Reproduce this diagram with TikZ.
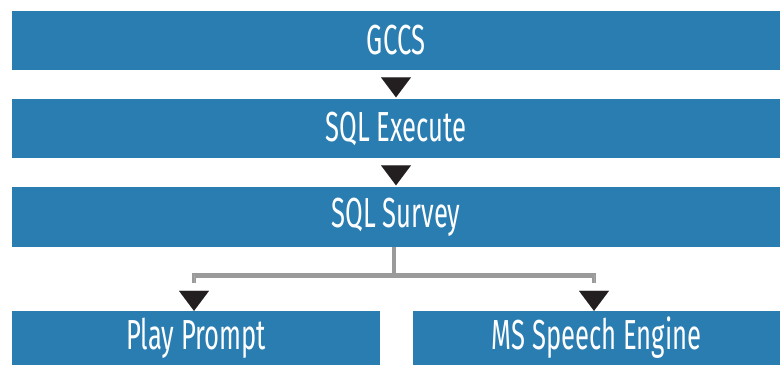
\documentclass[tikz,border=0pt]{standalone}
\usepackage{fontspec}
\setmainfont{Fira Sans}
\usetikzlibrary{arrows.meta}
\definecolor{boxblue}{HTML}{2A7DB1}
\definecolor{tridark}{HTML}{231F20}
\definecolor{linegray}{HTML}{9A9A9A}
\newcommand{\cond}[1]{\scalebox{0.61}[1]{#1}}
\begin{document}
\begin{tikzpicture}[x=1pt,y=-1pt,
  box/.style={fill=boxblue, text=white, inner sep=0pt, font=\fontsize{42}{44}\selectfont},
  triarrow/.style={line width=0.01pt, white, -{Triangle[length=20pt,width=30pt,color=tridark]}},
  branch/.style={draw=linegray, line width=4.6pt, line cap=butt, line join=miter}]
\useasboundingbox (0,0) rectangle (783,365);
\node[box, minimum width=768pt, minimum height=59pt] (b1) at (396,40.5) {\cond{GCCS}};
\node[box, minimum width=768pt, minimum height=59pt] (b2) at (396,128.5) {\cond{SQL Execute}};
\node[box, minimum width=768pt, minimum height=60pt] (b3) at (396,217) {\cond{SQL Survey}};
\node[box, minimum width=368pt, minimum height=54pt] (b4) at (196,338) {\cond{Play Prompt}};
\node[box, minimum width=367pt, minimum height=54pt] (b5) at (596.5,338) {\cond{MS Speech Engine}};
\draw[triarrow, shorten >=1.5pt] (b1.south) -- (b2.north);
\draw[triarrow, shorten >=1.5pt] (b2.south) -- (b3.north);
\coordinate (bl) at (194,283);
\coordinate (br) at (594,283);
\draw[branch] ([xshift=-2pt]b3.south) -- ++(0,28) coordinate (j);
\draw[branch] (bl) |- (j) -| (br);
\draw[triarrow] ([yshift=8pt]bl) -- (b4.north -| bl);
\draw[triarrow] ([yshift=8pt]br) -- (b5.north -| br);
\end{tikzpicture}
\end{document}
